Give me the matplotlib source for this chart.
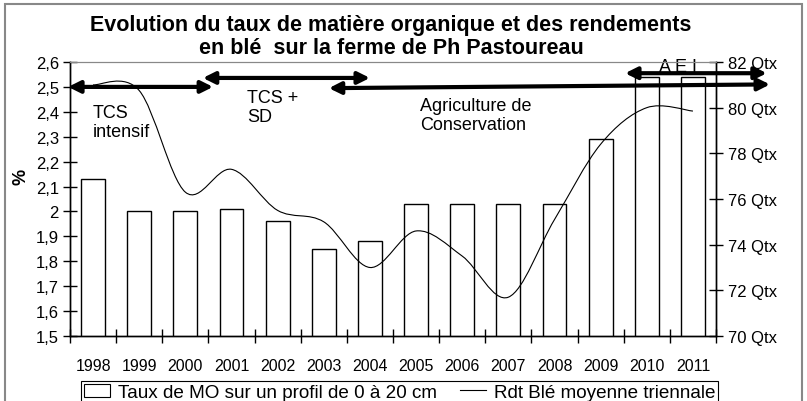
import numpy as np
import matplotlib.pyplot as plt
from matplotlib.path import Path
from matplotlib.patches import PathPatch, Rectangle
from matplotlib.lines import Line2D

plt.rcParams['font.family'] = ['Liberation Sans', 'DejaVu Sans']

annees = ['1998', '1999', '2000', '2001', '2002', '2003', '2004',
          '2005', '2006', '2007', '2008', '2009', '2010', '2011']
taux_mo = [2.13, 2.00, 2.00, 2.01, 1.96, 1.85, 1.88,
           2.03, 2.03, 2.03, 2.03, 2.29, 2.54, 2.54]
rdt_ble = [81.0, 80.75, 76.3, 77.3, 75.5, 75.0, 73.0,
           74.6, 73.5, 71.7, 75.1, 78.4, 80.0, 79.85]

fig = plt.figure(figsize=(8.07, 4.02), dpi=100)
ax = fig.add_axes([70/807, 1-337/402, 646/807, 274/402])
ax2 = ax.twinx()

x = np.arange(len(annees))
bars = ax.bar(x, taux_mo, width=0.52, color='white', edgecolor='black', lw=1, zorder=2)

ax.set_xlim(-0.5, len(annees)-0.5)
ax.set_ylim(1.5, 2.6)
yt = np.arange(1.5, 2.61, 0.1)
ax.set_yticks(yt)
ax.set_yticklabels([('%g' % round(v, 1)).replace('.', ',') for v in yt])
ax.set_xticks(np.arange(-0.5, len(annees), 1.0))
ax.set_xticklabels([])
ax.set_xticks(x, minor=True)
ax.set_xticklabels(annees, minor=True)
ax.tick_params(axis='x', which='major', direction='inout', length=10, width=1)
ax.tick_params(axis='x', which='minor', length=0, pad=16, labelsize=11.5)
ax.tick_params(axis='y', direction='inout', length=10, width=1, labelsize=12, pad=3)
ax.set_ylabel('%', fontsize=13, fontweight='bold')
ax.yaxis.set_label_coords(-0.062, 0.585)

ax2.set_ylim(70, 82)
ax2.set_yticks(np.arange(70, 83, 2))
ax2.set_yticklabels(['%d Qtx' % v for v in np.arange(70, 83, 2)])
ax2.tick_params(axis='y', direction='inout', length=10, width=1, labelsize=12, pad=4)

for a in (ax, ax2):
    a.spines['top'].set_color('#888888')
    a.spines['top'].set_linewidth(0.8)
    a.spines['left'].set_linewidth(1)
    a.spines['right'].set_linewidth(1)
    a.spines['bottom'].set_linewidth(1)

# courbe lissee (bezier type Excel) passant par les points
n = len(rdt_ble)
verts = [(x[0], rdt_ble[0])]
codes = [Path.MOVETO]
for i in range(n-1):
    p0 = rdt_ble[max(i-1, 0)]
    p1 = rdt_ble[i]
    p2 = rdt_ble[i+1]
    p3 = rdt_ble[min(i+2, n-1)]
    x0 = x[max(i-1, 0)]
    x3 = x[min(i+2, n-1)]
    c1 = (x[i] + (x[i+1]-x0)/6, p1 + (p2-p0)/6)
    c2 = (x[i+1] - (x3-x[i])/6, p2 - (p3-p1)/6)
    verts += [c1, c2, (x[i+1], p2)]
    codes += [Path.CURVE4]*3
ax2.add_patch(PathPatch(Path(verts, codes), fill=False, edgecolor='black', lw=0.8, zorder=3))

# fleches des periodes
fleches = [((-0.54, 2.50), (2.60, 2.50)),
           ((2.38, 2.536), (6.0, 2.536)),
           ((5.11, 2.495), (14.67, 2.51)),
           ((11.53, 2.555), (14.60, 2.555))]
for (a0, a1) in fleches:
    ax.annotate('', xy=a1, xytext=a0, xycoords='data', textcoords='data',
                annotation_clip=False,
                arrowprops=dict(arrowstyle='<|-|>,head_length=0.7,head_width=0.35',
                                color='black', lw=3, shrinkA=0, shrinkB=0, mutation_scale=10),
                zorder=5)

ax.text(0.0, 2.43, 'TCS\nintensif', fontsize=13, va='top', ha='left', linespacing=1.15)
ax.text(3.34, 2.49, 'TCS +\nSD', fontsize=13, va='top', ha='left', linespacing=1.15)
ax.text(7.09, 2.46, 'Agriculture de\nConservation', fontsize=13, va='top', ha='left', linespacing=1.15)
ax.text(12.67, 2.58, 'A E I', fontsize=13, va='center', ha='center')

fig.text(391/807, 1-25/402, 'Evolution du taux de matière organique et des rendements',
         fontsize=15.5, fontweight='bold', ha='center', va='center')
fig.text(391/807, 1-48/402, 'en blé  sur la ferme de Ph Pastoureau',
         fontsize=15.5, fontweight='bold', ha='center', va='center')

handles = [Rectangle((0, 0), 1, 1, facecolor='white', edgecolor='black', lw=0.8),
           Line2D([], [], color='black', lw=0.8)]
leg = fig.legend(handles, ['Taux de MO sur un profil de 0 à 20 cm', 'Rdt Blé moyenne triennale'],
                 loc='upper left', bbox_to_anchor=(81/807, 1-382/402), ncol=2,
                 fontsize=13.6, fancybox=False, framealpha=1, edgecolor='black',
                 borderpad=0.15, handlelength=1.4, handletextpad=0.4, columnspacing=1.2,
                 borderaxespad=0)
leg.get_frame().set_linewidth(0.8)

fig.patches.append(Rectangle((5/807, -0.1), 797/807, 1.1-5/402, transform=fig.transFigure,
                             fill=False, edgecolor='#888888', lw=1.5))

fig.savefig('out.png', dpi=100)
